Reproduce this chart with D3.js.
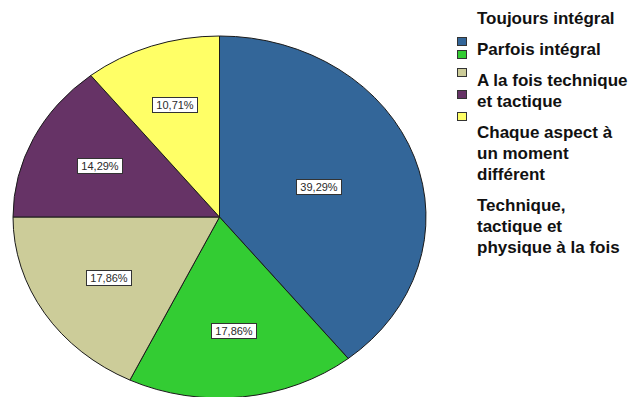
<!DOCTYPE html>
<html>
<head>
<meta charset="utf-8">
<script src="https://cdn.jsdelivr.net/npm/d3@7"></script>
<style>
  html, body { margin: 0; padding: 0; background: #fff; }
  svg { display: block; }
</style>
</head>
<body>
<svg id="chart" width="634" height="397"></svg>
<script>
// Categories, shares (%) and slice colours
const categories = [
  "Toujours intégral",
  "Parfois intégral",
  "A la fois technique et tactique",
  "Chaque aspect à un moment différent",
  "Technique, tactique et physique à la fois"
];
const shares = [39.29, 17.86, 17.86, 14.29, 10.71];
const colors = ["#336699", "#33cc33", "#cccc99", "#663366", "#ffff66"];

// Legend text, already wrapped into lines
const legendLines = [
  ["Toujours intégral"],
  ["Parfois intégral"],
  ["A la fois technique", "et tactique"],
  ["Chaque aspect à", "un moment", "différent"],
  ["Technique,", "tactique et", "physique à la fois"]
];

const svg = d3.select("#chart");

// Elliptical pie: a circle of radius rx squashed vertically to ry
const cx = 219.5, cy = 217, rx = 206.5, ry = 181;
const sy = ry / rx;

const data = categories.map((c, i) => ({ name: c, value: shares[i], color: colors[i] }));
const pie = d3.pie().value(d => d.value).sort(null);
const arcs = pie(data);
const arc = d3.arc().innerRadius(0).outerRadius(rx);

const g = svg.append("g").attr("transform", `translate(${cx},${cy}) scale(1,${sy})`);
g.selectAll("path")
  .data(arcs)
  .join("path")
  .attr("d", arc)
  .attr("fill", d => d.data.color)
  .attr("stroke", "#1a1a1a")
  .attr("stroke-width", 1)
  .attr("vector-effect", "non-scaling-stroke");

// Value labels placed at each sector's area centroid
const fmt = v => v.toFixed(2).replace(".", ",") + "%";
const labels = svg.append("g");
arcs.forEach(d => {
  const theta = d.endAngle - d.startAngle;
  const mid = (d.startAngle + d.endAngle) / 2;
  const dist = 4 * Math.sin(theta / 2) / (3 * theta);
  const x = cx + dist * rx * Math.sin(mid);
  const y = cy - dist * ry * Math.cos(mid);
  const lg = labels.append("g").attr("transform", `translate(${Math.round(x)},${Math.round(y)})`);
  const t = lg.append("text")
    .attr("text-anchor", "middle")
    .attr("dy", "0.36em")
    .attr("font-family", "Liberation Sans, Arial, sans-serif")
    .attr("font-size", 11)
    .attr("fill", "#2a2a2a")
    .text(fmt(d.data.value));
  const bb = t.node().getBBox();
  lg.insert("rect", "text")
    .attr("x", Math.round(bb.x - 4) + 0.5)
    .attr("y", -7.5)
    .attr("width", Math.round(bb.width + 7))
    .attr("height", 15)
    .attr("fill", "#fff")
    .attr("stroke", "#333")
    .attr("stroke-width", 1);
});

// Legend: swatches column and text column
const legend = svg.append("g");
const swatchY = [37, 50, 68, 90, 112];
legend.selectAll("rect")
  .data(data)
  .join("rect")
  .attr("x", 457.5)
  .attr("y", (d, i) => swatchY[i] + 0.5)
  .attr("width", 9)
  .attr("height", 8)
  .attr("fill", d => d.color)
  .attr("stroke", "#333")
  .attr("stroke-width", 1);

let baseline = 24;
legendLines.forEach(lines => {
  const t = legend.append("text")
    .attr("x", 477)
    .attr("y", baseline)
    .attr("font-family", "Liberation Sans, Arial, sans-serif")
    .attr("font-size", 17)
    .attr("font-weight", "bold")
    .attr("fill", "#111");
  lines.forEach((line, j) => {
    t.append("tspan").attr("x", 477).attr("y", baseline + j * 21).text(line);
  });
  baseline += (lines.length - 1) * 21 + 31;
});
</script>
</body>
</html>
